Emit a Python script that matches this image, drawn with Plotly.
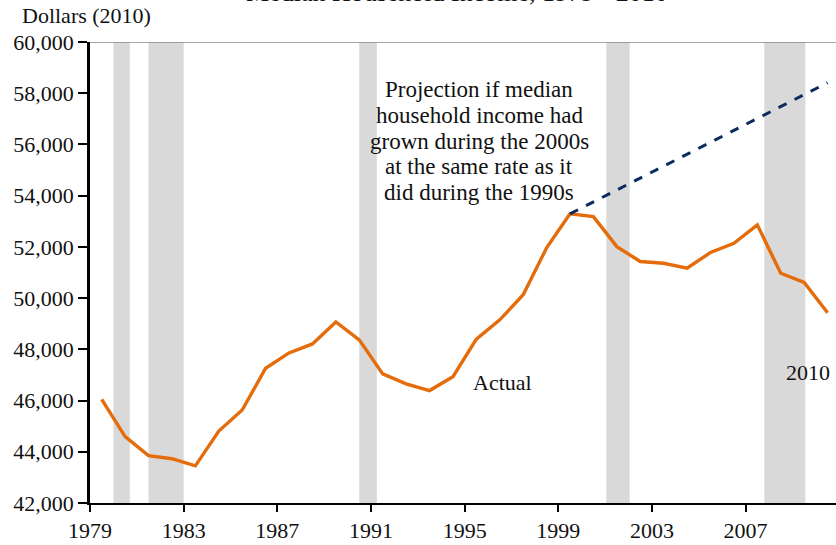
import plotly.graph_objects as go

years = list(range(1979, 2011))
income = [46050, 44590, 43850, 43730, 43450, 44810, 45630, 47260, 47860, 48210,
          49070, 48370, 47040, 46650, 46390, 46930, 48400, 49150, 50130, 51960,
          53290, 53180, 52010, 51430, 51360, 51170, 51780, 52140, 52860, 50970,
          50610, 49430]
proj_years = [1999, 2010]
proj_income = [53290, 58410]
recessions = [(1980.0, 1980.7), (1981.5, 1983.0), (1990.5, 1991.25),
              (2001.05, 2002.05), (2007.8, 2009.55)]
proj_lines = ["Projection if median", "household income had", "grown during the 2000s",
              "at the same rate as it", "did during the 1990s"]

C = {"orange": "#E46C0A", "navy": "#0E2A5C", "bar": "#D9D9D9", "text": "#111111"}
FONT = "Liberation Serif, Times New Roman, serif"

fig = go.Figure()
for x0, x1 in recessions:
    fig.add_shape(type="rect", xref="x", yref="paper", x0=x0, x1=x1, y0=0, y1=1,
                  fillcolor=C["bar"], line_width=0, layer="below")
fig.add_shape(type="line", xref="paper", yref="y", x0=0, x1=1, y0=60000, y1=60000,
              line=dict(color="#8a8a8a", width=1.5))

fig.add_trace(go.Scatter(x=[y + 0.5 for y in years], y=income, mode="lines",
    line=dict(color=C["orange"], width=3.4), showlegend=False))
fig.add_trace(go.Scatter(x=[y + 0.5 for y in proj_years], y=proj_income, mode="lines",
    line=dict(color=C["navy"], width=3, dash="dash"), showlegend=False))

# projection note, one annotation per line to get the tight line spacing
for i, txt in enumerate(proj_lines):
    fig.add_annotation(x=1995.63, y=58130 - i * 1000, text=txt, showarrow=False,
                       font=dict(size=23, color=C["text"], family=FONT))
fig.add_annotation(x=1996.63, y=46690, text="Actual", showarrow=False,
                   font=dict(size=22, color=C["text"], family=FONT))
fig.add_annotation(x=2009.66, y=47115, text="2010", showarrow=False,
                   font=dict(size=22, color=C["text"], family=FONT))

fig.add_annotation(x=0.492, y=1.072, xref="paper", yref="paper", yanchor="bottom",
                   text="Median Household Income, 1979 - 2010", showarrow=False,
                   font=dict(size=26, color=C["text"], family=FONT))
fig.add_annotation(x=-0.094, y=1.026, xref="paper", yref="paper", xanchor="left",
                   yanchor="bottom", text="Dollars (2010)", showarrow=False,
                   font=dict(size=22, color=C["text"], family=FONT))

fig.update_layout(
    width=836, height=545,
    paper_bgcolor="white", plot_bgcolor="white",
    margin=dict(l=90, r=0, t=42, b=42),
    font=dict(family=FONT, size=22, color=C["text"]),
    xaxis=dict(range=[1979, 2010.86], tick0=1979, dtick=4, ticks="outside",
               ticklen=7, tickwidth=2, tickcolor="black", showline=True,
               linecolor="black", linewidth=2, showgrid=False, zeroline=False),
    yaxis=dict(range=[42000, 60000], dtick=2000, tickformat=",", ticks="outside",
               ticklen=9, tickwidth=1.5, tickcolor="black", showline=True,
               linecolor="black", linewidth=2.5, showgrid=False, zeroline=False),
)

fig.write_html("out.html", config={"displayModeBar": False},
               post_script="document.body.style.margin='0';")
